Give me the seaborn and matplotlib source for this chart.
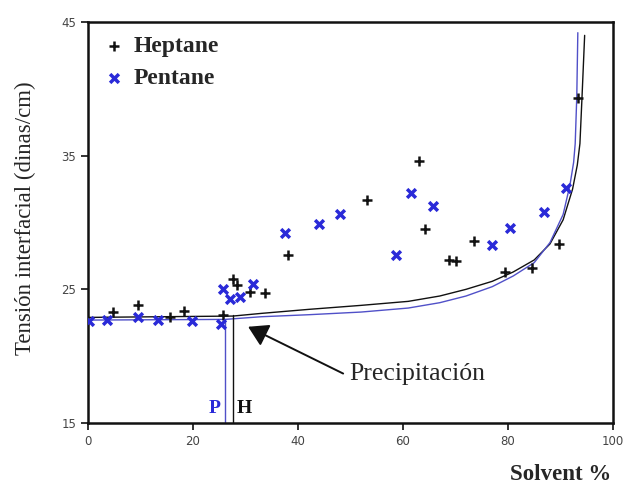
import matplotlib
matplotlib.use("Agg")
import matplotlib.pyplot as plt
import seaborn as sns
import pandas as pd

# Data
hept_x = [4.8, 9.5, 15.6, 18.3, 25.7, 27.6, 28.4, 30.9, 33.7, 38.1, 53.2, 63.0, 64.2, 68.8, 70.1, 73.5, 79.4, 84.6, 89.7, 93.3]
hept_y = [23.3, 23.8, 22.9, 23.4, 23.1, 25.8, 25.3, 24.8, 24.7, 27.6, 31.7, 34.6, 29.5, 27.2, 27.1, 28.6, 26.3, 26.6, 28.4, 39.3]

pent_x = [0.2, 3.6, 9.5, 13.3, 19.8, 25.3, 25.7, 27.0, 28.9, 31.4, 37.5, 44.0, 48.0, 58.7, 61.5, 65.7, 77.0, 80.4, 86.8, 91.0]
pent_y = [22.65, 22.7, 22.9, 22.7, 22.6, 22.4, 25.05, 24.3, 24.4, 25.4, 29.2, 29.9, 30.6, 27.6, 32.2, 31.2, 28.3, 29.6, 30.75, 32.55]

hept_curve_x = [0, 27.6, 33, 42, 52, 61, 67, 72, 77, 81, 85, 88, 90.5, 92.3, 93.2, 93.7, 94.1, 94.6]
hept_curve_y = [22.9, 23.0, 23.2, 23.5, 23.8, 24.1, 24.5, 25.0, 25.6, 26.3, 27.2, 28.4, 30.2, 32.5, 34.3, 35.9, 39.4, 44.0]
pent_curve_x = [0, 26.1, 33, 42, 52, 61, 67, 72, 77, 81, 85, 88, 90.5, 91.8, 92.5, 92.8, 93.1, 93.3]
pent_curve_y = [22.7, 22.75, 22.95, 23.1, 23.3, 23.6, 24.0, 24.5, 25.2, 26.0, 27.0, 28.5, 30.6, 32.8, 34.5, 35.9, 39.4, 44.2]

precip_x = {"P": 26.1, "H": 27.6}
precip_top = {"P": 22.7, "H": 23.1}

x_ticks = [0, 20, 40, 60, 80, 100]
y_ticks = [15, 25, 35, 45]

sns.set_style("white")
plt.rcParams["font.family"] = ["DejaVu Sans"]

fig = plt.figure(figsize=(6.29, 4.84), dpi=100)
ax = fig.add_axes([88/629, 1-423/484, (613-88)/629, (423-22)/484])

black = "#111111"
blue = "#2a2ad8"
blue_line = "#5050c8"

ch = pd.DataFrame({"x": hept_curve_x, "y": hept_curve_y})
cp = pd.DataFrame({"x": pent_curve_x, "y": pent_curve_y})
sns.lineplot(data=ch, x="x", y="y", sort=False, color=black, lw=1.0, ax=ax, estimator=None)
sns.lineplot(data=cp, x="x", y="y", sort=False, color=blue_line, lw=1.0, ax=ax, estimator=None)

ax.plot([precip_x["P"]] * 2, [15, precip_top["P"]], color=blue_line, lw=1.0)
ax.plot([precip_x["H"]] * 2, [15, precip_top["H"]], color=black, lw=1.0)

dh = pd.DataFrame({"x": hept_x, "y": hept_y})
dp = pd.DataFrame({"x": pent_x, "y": pent_y})
sns.scatterplot(data=dh, x="x", y="y", marker="+", s=55, color=black, linewidth=1.8, ax=ax, label="Heptane", zorder=4)
sns.scatterplot(data=dp, x="x", y="y", marker="x", s=40, color=blue, linewidth=2.5, ax=ax, label="Pentane", zorder=4)

ax.set_xlim(0, 100)
ax.set_ylim(15, 45)
ax.set_xticks(x_ticks)
ax.set_yticks(y_ticks)
ax.tick_params(axis="both", which="major", direction="out", length=5, width=1.2,
               labelsize=8.5, labelcolor="#444444", color=black, bottom=True, left=True)
for s in ax.spines.values():
    s.set_color(black)
    s.set_linewidth(1.8)

serif = ["Liberation Serif", "DejaVu Serif"]
ax.set_xlabel("")
ax.set_ylabel("")
fig.text(25/629, 1-218/484, "Tensión interfacial (dinas/cm)", family=serif, fontsize=16.5,
         rotation=90, ha="center", va="center")
fig.text(611/629, 1-475/484, "Solvent %", family=serif, fontsize=16.5, fontweight="bold",
         ha="right", va="center")

leg = ax.legend(loc="upper left", frameon=False, prop={"family": serif, "weight": "bold", "size": 17},
                handlelength=1.0, handletextpad=0.35, borderaxespad=0.18, labelspacing=0.45)

ax.text(precip_x["P"] - 0.8, 15.75, "P", family=serif, fontsize=14, fontweight="bold", color=blue,
        ha="right", va="baseline")
ax.text(precip_x["H"] + 0.8, 15.75, "H", family=serif, fontsize=14, fontweight="bold", color=black,
        ha="left", va="baseline")

ax.annotate("", xy=(30.5, 22.2), xytext=(48.6, 18.7),
            arrowprops=dict(arrowstyle="-|>,head_length=0.6,head_width=0.36", mutation_scale=20,
                            color=black, lw=1.4, shrinkA=0, shrinkB=0))
ax.text(49.7, 18.2, "Precipitación", family=serif, fontsize=18.5, ha="left", va="baseline")

fig.savefig("out.png", dpi=100)
